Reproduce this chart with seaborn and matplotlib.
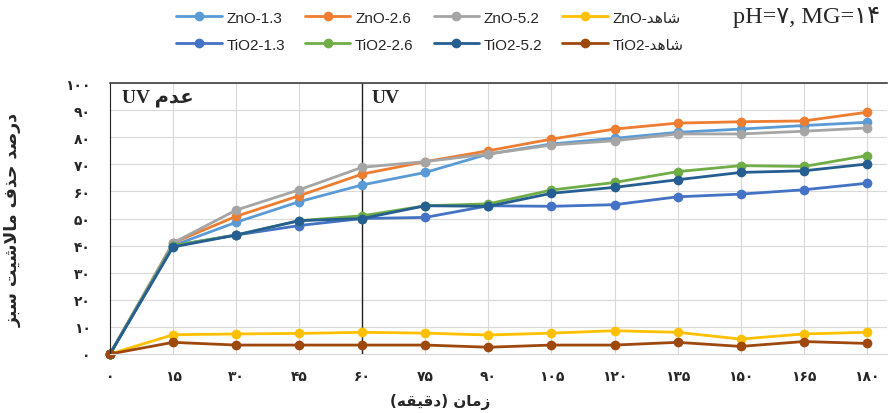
import pandas as pd
import matplotlib
matplotlib.use("Agg")
import matplotlib.pyplot as plt
import seaborn as sns

# data (percent removal vs time in minutes)
time_min = [0, 15, 30, 45, 60, 75, 90, 105, 120, 135, 150, 165, 180]

zno_13 = [0, 40, 48.6, 56.2, 62.4, 67, 73.8, 77.5, 79.6, 81.8, 83, 84.3, 85.5]
zno_26 = [0, 41, 50.8, 58.4, 66.4, 71, 75, 79.3, 83, 85.2, 85.7, 86, 89.2]
zno_52 = [0, 41, 53.1, 60.6, 68.9, 71, 73.8, 77.1, 78.7, 81.2, 81.2, 82.2, 83.4]
zno_blank = [0, 7.1, 7.4, 7.6, 8, 7.7, 7, 7.7, 8.6, 8, 5.5, 7.4, 8]
tio2_13 = [0, 40, 43.9, 47.4, 50, 50.4, 54.7, 54.5, 55.1, 58, 59, 60.6, 63]
tio2_26 = [0, 40, 43.9, 49.2, 51, 54.7, 55.4, 60.5, 63.3, 67.3, 69.5, 69.2, 73.2]
tio2_52 = [0, 39.5, 43.9, 49.2, 50, 54.7, 54.5, 59.3, 61.5, 64.3, 67, 67.6, 70.1]
tio2_blank = [0, 4.3, 3.3, 3.3, 3.3, 3.3, 2.5, 3.3, 3.3, 4.3, 2.8, 4.6, 3.9]

y_ticks = [0, 10, 20, 30, 40, 50, 60, 70, 80, 90, 100]

colors = ["#5B9BD5", "#ED7D31", "#A5A5A5", "#FFC000",
          "#4472C4", "#70AD47", "#255E91", "#9E480E"]

# -----------------------------
# minimal Persian shaping (matplotlib has no RTL / joining support)
# -----------------------------
FORMS = {
    "ا": ("\ufe8d", "\ufe8e", None, None),
    "ب": ("\ufe8f", "\ufe90", "\ufe91", "\ufe92"),
    "ت": ("\ufe95", "\ufe96", "\ufe97", "\ufe98"),
    "ح": ("\ufea1", "\ufea2", "\ufea3", "\ufea4"),
    "د": ("\ufea9", "\ufeaa", None, None),
    "ذ": ("\ufeab", "\ufeac", None, None),
    "ر": ("\ufead", "\ufeae", None, None),
    "ز": ("\ufeaf", "\ufeb0", None, None),
    "س": ("\ufeb1", "\ufeb2", "\ufeb3", "\ufeb4"),
    "ش": ("\ufeb5", "\ufeb6", "\ufeb7", "\ufeb8"),
    "ص": ("\ufeb9", "\ufeba", "\ufebb", "\ufebc"),
    "ع": ("\ufec9", "\ufeca", "\ufecb", "\ufecc"),
    "ف": ("\ufed1", "\ufed2", "\ufed3", "\ufed4"),
    "ق": ("\ufed5", "\ufed6", "\ufed7", "\ufed8"),
    "ل": ("\ufedd", "\ufede", "\ufedf", "\ufee0"),
    "م": ("\ufee1", "\ufee2", "\ufee3", "\ufee4"),
    "ن": ("\ufee5", "\ufee6", "\ufee7", "\ufee8"),
    "ه": ("\ufee9", "\ufeea", "\ufeeb", "\ufeec"),
    "ی": ("\ufbfc", "\ufbfd", "\ufef3", "\ufef4"),
    "لا": ("\ufefb", "\ufefc", None, None),
}
MIRROR = {"(": ")", ")": "("}


def fa(text):
    tokens = []
    i = 0
    while i < len(text):
        if text[i:i + 2] == "لا":
            tokens.append("لا")
            i += 2
        else:
            tokens.append(text[i])
            i += 1
    out = []
    for k, t in enumerate(tokens):
        if t not in FORMS:
            out.append(MIRROR.get(t, t))
            continue
        prev = tokens[k - 1] if k > 0 else None
        nxt = tokens[k + 1] if k < len(tokens) - 1 else None
        before = prev in FORMS and FORMS[prev][2] is not None
        after = nxt in FORMS and FORMS[t][2] is not None
        if before and after:
            out.append(FORMS[t][3])
        elif before:
            out.append(FORMS[t][1])
        elif after:
            out.append(FORMS[t][2])
        else:
            out.append(FORMS[t][0])
    return "".join(reversed(out))


def fa_num(n):
    return str(n).translate(str.maketrans("0123456789", "۰۱۲۳۴۵۶۷۸۹"))


names = ["ZnO-1.3", "ZnO-2.6", "ZnO-5.2", "ZnO-" + fa("شاهد"),
         "TiO2-1.3", "TiO2-2.6", "TiO2-5.2", "TiO2-" + fa("شاهد")]
series = [zno_13, zno_26, zno_52, zno_blank, tio2_13, tio2_26, tio2_52, tio2_blank]

frames = []
for name, vals in zip(names, series):
    frames.append(pd.DataFrame({"time": time_min, "removal": vals, "series": name}))
df = pd.concat(frames, ignore_index=True)

sns.set_style("white")
plt.rcParams["font.family"] = ["DejaVu Sans"]

fig = plt.figure(figsize=(8.88, 4.14), dpi=100)
ax = fig.add_axes([110 / 888, 59 / 414, 777 / 888, 271 / 414])

sns.lineplot(data=df, x="time", y="removal", hue="series", hue_order=names,
             palette=colors, marker="o", markersize=7, markeredgewidth=0,
             linewidth=2, ax=ax)
for ln in ax.lines:
    ln.set_clip_on(False)

handles, labels = ax.get_legend_handles_labels()
ax.get_legend().remove()

ax.set_xlim(0, 184.8)
ax.set_ylim(0, 100)
ax.set_xticks(time_min)
ax.set_xticklabels([fa_num(t) for t in time_min], fontsize=10, fontweight="bold")
ax.set_yticks(y_ticks)
ax.set_yticklabels([fa_num(t) for t in y_ticks], fontsize=10, fontweight="bold")
ax.grid(True, color="#D9D9D9", linewidth=0.8)
ax.tick_params(axis="x", length=4, color="#D9D9D9", pad=7)
ax.tick_params(axis="y", length=0, pad=14)

ax.spines["right"].set_visible(False)
ax.spines["bottom"].set_color("#D9D9D9")
ax.spines["left"].set_color("#222222")
ax.spines["top"].set_color("#404040")
ax.spines["top"].set_linewidth(1.2)

ax.axvline(60, color="#222222", linewidth=1, zorder=1)

ax.text(2.9, 94.8, "UV " + fa("عدم"), fontsize=14, fontweight="bold",
        family=["Liberation Serif", "DejaVu Sans"], va="center")
ax.text(62.3, 94.8, "UV", fontsize=14, fontweight="bold",
        family=["Liberation Serif", "DejaVu Sans"], va="center")

ax.set_xlabel(fa("زمان (دقیقه)"), fontsize=11, fontweight="bold")
ax.xaxis.set_label_coords(0.425, -0.145)
ax.set_ylabel(fa("درصد حذف مالاشیت سبز"), fontsize=12.5, fontweight="bold")
ax.yaxis.set_label_coords(-88 / 777, 0.5)

# legend laid out row by row, two rows of four
order = [0, 4, 1, 5, 2, 6, 3, 7]
fig.legend([handles[i] for i in order], [labels[i] for i in order],
           ncol=4, loc="upper left", bbox_to_anchor=(162 / 888, 1 + 2 / 414),
           frameon=False, handlelength=3, columnspacing=1.3,
           labelspacing=0.85, handletextpad=0.3,
           prop={"family": ["Liberation Sans", "DejaVu Sans"], "size": 11})

fig.text(733 / 888, 1 - 17 / 414, "pH=" + fa_num(7) + ", MG=" + fa_num(14),
         fontsize=17.5, family=["Liberation Serif", "DejaVu Sans"], va="center")

fig.savefig("out.png", dpi=100)
